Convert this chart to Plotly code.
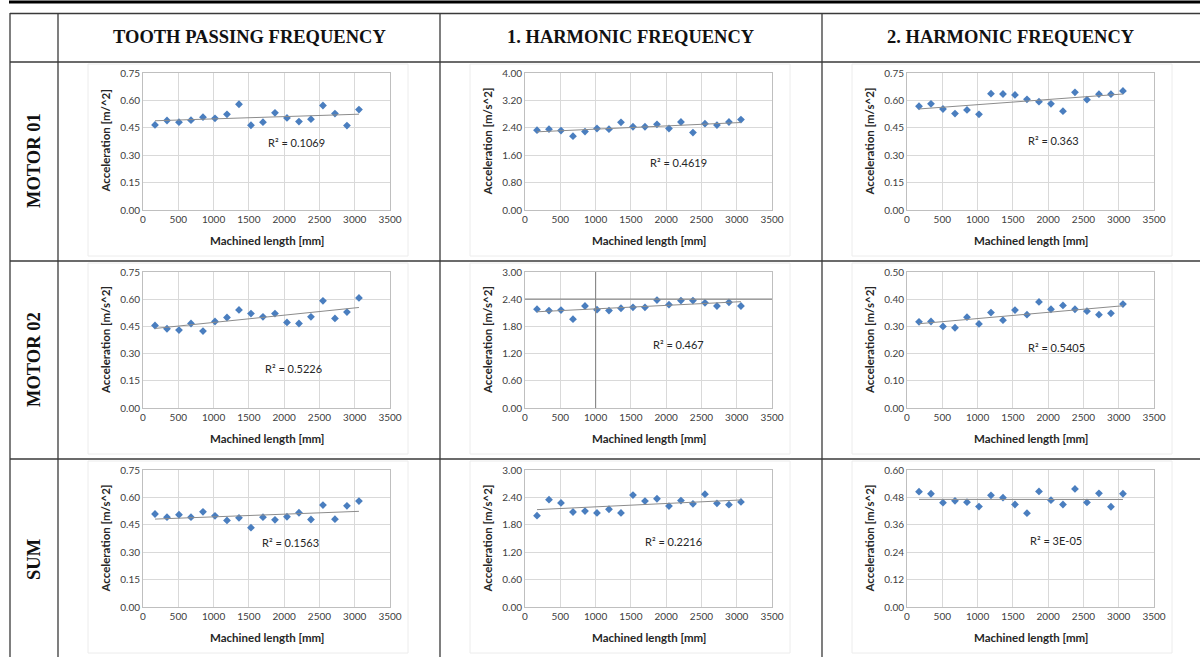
import numpy as np
import plotly.graph_objects as go

W, H = 1200, 657

# ---------------- data ----------------
machined_length = [170, 340, 510, 680, 850, 1020, 1190, 1360, 1530, 1700,
                   1870, 2040, 2210, 2380, 2550, 2720, 2890, 3060]

col_headers = ["TOOTH PASSING FREQUENCY", "1. HARMONIC FREQUENCY", "2. HARMONIC FREQUENCY"]
row_headers = ["MOTOR 01", "MOTOR 02", "SUM"]

motor01_tooth = [0.466, 0.490, 0.481, 0.492, 0.508, 0.502, 0.524, 0.579, 0.464,
                 0.481, 0.532, 0.504, 0.484, 0.497, 0.572, 0.528, 0.462, 0.550]
motor01_h1 = [2.33, 2.36, 2.32, 2.155, 2.29, 2.38, 2.36, 2.56, 2.43,
              2.43, 2.50, 2.38, 2.57, 2.26, 2.52, 2.48, 2.57, 2.64]
motor01_h2 = [0.568, 0.581, 0.553, 0.528, 0.548, 0.524, 0.637, 0.635, 0.630,
              0.606, 0.593, 0.581, 0.541, 0.644, 0.604, 0.634, 0.634, 0.652]

motor02_tooth = [0.455, 0.437, 0.430, 0.466, 0.424, 0.477, 0.499, 0.541, 0.521,
                 0.503, 0.521, 0.472, 0.466, 0.503, 0.591, 0.494, 0.529, 0.607]
motor02_h1 = [2.18, 2.15, 2.16, 1.96, 2.25, 2.17, 2.15, 2.20, 2.22,
              2.22, 2.38, 2.28, 2.37, 2.37, 2.32, 2.25, 2.33, 2.25]
motor02_h2 = [0.317, 0.318, 0.300, 0.295, 0.334, 0.309, 0.351, 0.323, 0.360,
              0.343, 0.390, 0.363, 0.377, 0.363, 0.356, 0.343, 0.348, 0.382]

sum_tooth = [0.509, 0.492, 0.505, 0.492, 0.521, 0.499, 0.474, 0.488, 0.434,
             0.492, 0.477, 0.494, 0.516, 0.479, 0.558, 0.481, 0.554, 0.580]
sum_h1 = [2.00, 2.35, 2.28, 2.08, 2.10, 2.06, 2.14, 2.06, 2.45,
          2.32, 2.37, 2.21, 2.33, 2.26, 2.47, 2.27, 2.24, 2.30]
sum_h2 = [0.505, 0.496, 0.457, 0.465, 0.459, 0.440, 0.489, 0.479, 0.449,
          0.411, 0.506, 0.468, 0.449, 0.517, 0.458, 0.498, 0.439, 0.496]

r2_labels = ["R² = 0.1069", "R² = 0.4619", "R² = 0.363",
             "R² = 0.5226", "R² = 0.467", "R² = 0.5405",
             "R² = 0.1563", "R² = 0.2216", "R² = 3E-05"]
r2_pos = [(2180, 0.368), (2170, 1.39), (2075, 0.379),
          (2130, 0.216), (2175, 1.40), (2115, 0.224),
          (2085, 0.355), (2105, 1.43), (2105, 0.290)]

y_max = [0.75, 4.0, 0.75, 0.75, 3.0, 0.5, 0.75, 3.0, 0.6]
y_titles = ["Acceleration [m/^2]"] + ["Acceleration [m/s^2]"] * 8
x_ticks = [0, 500, 1000, 1500, 2000, 2500, 3000, 3500]

series = [motor01_tooth, motor01_h1, motor01_h2,
          motor02_tooth, motor02_h1, motor02_h2,
          sum_tooth, sum_h1, sum_h2]

# ---------------- layout geometry (pixels) ----------------
col_px = [(143, 390), (525, 772), (907, 1154)]
row_px = [(73, 210), (272, 408), (470, 607)]

def px_x(x):
    return x / W

def px_y(y):
    return 1 - y / H

FONT = "Lato, Open Sans, sans-serif"
SERIF = "Liberation Serif, Times New Roman, serif"
MARKER = "#4a7ebf"

fig = go.Figure()
annotations = []
shapes = []

for i in range(9):
    r, c = divmod(i, 3)
    sfx = "" if i == 0 else str(i + 1)
    xa, ya = "x" + sfx, "y" + sfx
    ys = series[i]
    fig.add_trace(go.Scatter(
        x=machined_length, y=ys, mode="markers", xaxis=xa, yaxis=ya,
        marker=dict(symbol="diamond", size=6, color=MARKER, line=dict(width=0)),
        showlegend=False, hoverinfo="x+y"))
    # linear trendline
    k, b = np.polyfit(machined_length, ys, 1)
    xl = [machined_length[0], machined_length[-1]]
    fig.add_trace(go.Scatter(
        x=xl, y=[k * v + b for v in xl], mode="lines", xaxis=xa, yaxis=ya,
        line=dict(color="#8c8c8c", width=1), showlegend=False, hoverinfo="skip"))

    x0, x1 = col_px[c]
    y0, y1 = row_px[r]
    fig.update_layout(**{
        "xaxis" + sfx: dict(domain=[px_x(x0), px_x(x1)], anchor=ya, range=[0, 3500],
                            tickvals=x_ticks, showgrid=True, gridcolor="#d9d9d9", gridwidth=1,
                            showline=True, linecolor="#bfbfbf", mirror=True, zeroline=False,
                            tickfont=dict(family=FONT, size=10, color="#404040"),
                            ticks="", fixedrange=True, automargin=False),
        "yaxis" + sfx: dict(domain=[px_y(y1), px_y(y0)], anchor=xa, range=[0, y_max[i]],
                            dtick=y_max[i] / 5, tickformat=".2f", showgrid=True,
                            gridcolor="#d9d9d9", gridwidth=1, showline=True,
                            linecolor="#bfbfbf", mirror=True, zeroline=False,
                            tickfont=dict(family=FONT, size=10, color="#404040"),
                            ticks="", fixedrange=True, automargin=False),
    })
    # axis titles
    annotations.append(dict(x=px_x((x0 + x1) / 2), y=px_y(y1 + 30), xref="paper", yref="paper",
                            text="<b>Machined length [mm]</b>", showarrow=False,
                            font=dict(family=FONT, size=11.5, color="#262626"),
                            xanchor="center", yanchor="middle"))
    annotations.append(dict(x=px_x(x0 - 38), y=px_y((y0 + y1) / 2), xref="paper", yref="paper",
                            text="<b>" + y_titles[i] + "</b>", showarrow=False, textangle=-90,
                            font=dict(family=FONT, size=11.5, color="#262626"),
                            xanchor="center", yanchor="middle"))
    # R² label
    annotations.append(dict(x=r2_pos[i][0], y=r2_pos[i][1], xref=xa, yref=ya,
                            text=r2_labels[i], showarrow=False,
                            font=dict(family=FONT, size=11, color="#262626"),
                            xanchor="center", yanchor="middle"))
    # faint chart-area frame
    cx0 = x0 - 55
    cx1 = x1 + 18
    cy0 = y0 - 9
    cy1 = y1 + 46
    shapes.append(dict(type="rect", xref="paper", yref="paper",
                       x0=px_x(cx0), x1=px_x(cx1), y0=px_y(cy1), y1=px_y(cy0),
                       line=dict(color="#ececec", width=1), layer="below"))

# darker gridlines artifact in MOTOR 02 / 1. harmonic
shapes.append(dict(type="line", xref="x5", yref="y5", x0=1000, x1=1000, y0=0, y1=3.0,
                   line=dict(color="#8a8a8a", width=1.2)))
shapes.append(dict(type="line", xref="x5", yref="y5", x0=0, x1=3500, y0=2.4, y1=2.4,
                   line=dict(color="#8a8a8a", width=1.2)))

# ---------------- table frame ----------------
LINE = "#3a3a3a"
def hline(y, xa=10, xb=1200, w=1.3, col=LINE):
    shapes.append(dict(type="line", xref="paper", yref="paper", x0=px_x(xa), x1=px_x(xb),
                       y0=px_y(y), y1=px_y(y), line=dict(color=col, width=w)))

def vline(x, ya=13, yb=657, w=1.3, col=LINE):
    shapes.append(dict(type="line", xref="paper", yref="paper", x0=px_x(x), x1=px_x(x),
                       y0=px_y(ya), y1=px_y(yb), line=dict(color=col, width=w)))

hline(2, xa=9, xb=1200, w=3, col="#000000")
hline(13.5)
hline(62)
hline(261)
hline(459)
vline(10)
vline(58)
vline(440)
vline(822)

# headers
col_centers = [249, 631, 1011]
for c, t in enumerate(col_headers):
    annotations.append(dict(x=px_x(col_centers[c]), y=px_y(37), xref="paper", yref="paper",
                            text="<b>" + t + "</b>", showarrow=False,
                            font=dict(family=SERIF, size=18.5, color="#111111"),
                            xanchor="center", yanchor="middle"))
row_centers = [161, 360, 560]
for r, t in enumerate(row_headers):
    annotations.append(dict(x=px_x(34), y=px_y(row_centers[r]), xref="paper", yref="paper",
                            text="<b>" + t + "</b>", showarrow=False, textangle=-90,
                            font=dict(family=SERIF, size=18.5, color="#111111"),
                            xanchor="center", yanchor="middle"))

fig.update_layout(width=W, height=H, autosize=False,
                  margin=dict(l=0, r=0, t=0, b=0, pad=0, autoexpand=False),
                  paper_bgcolor="white", plot_bgcolor="white",
                  annotations=annotations, shapes=shapes, showlegend=False)

page_fix = (
    "var gd=document.getElementById('{plot_id}');"
    "gd.style.position='fixed';gd.style.left='0px';gd.style.top='0px';"
    "gd.style.width='1200px';gd.style.height='657px';"
    "document.documentElement.style.margin='0px';"
    "document.documentElement.style.overflow='hidden';"
    "document.documentElement.style.height='657px';"
    "document.body.style.margin='0px';"
    "document.body.style.padding='0px';"
    "document.body.style.overflow='hidden';"
    "document.body.style.height='657px';"
)

fig.write_html("out.html", config={"displayModeBar": False, "responsive": False},
               post_script=page_fix)
